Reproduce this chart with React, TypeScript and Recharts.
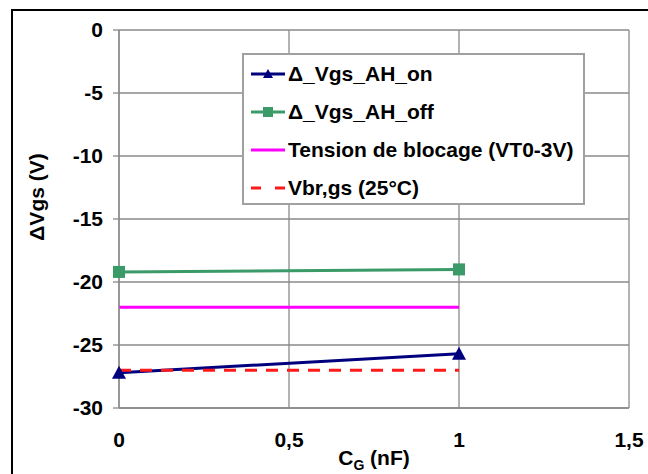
import React from "react";
import {
  LineChart,
  Line,
  XAxis,
  YAxis,
  CartesianGrid,
  Label,
} from "recharts";

const cg = [0, 1];
const ahOn = [-27.2, -25.7];
const ahOff = [-19.2, -19.0];
const blocage = [-22, -22];
const vbr = [-27, -27];

const xTicks = [0, 0.5, 1, 1.5];
const yTicks = [0, -5, -10, -15, -20, -25, -30];

const seriesNames = [
  "\u0394_Vgs_AH_on",
  "\u0394_Vgs_AH_off",
  "Tension de blocage (VT0-3V)",
  "Vbr,gs (25\u00b0C)",
];

const data = cg.map((x, i) => ({
  x,
  on: ahOn[i],
  off: ahOff[i],
  blocage: blocage[i],
  vbr: vbr[i],
}));

const FONT = "'Liberation Sans', Arial, sans-serif";
const FS = 21;
const NAVY = "#00007f";
const GREEN = "#3a9a68";
const MAGENTA = "#ff00ff";
const RED = "#ff1a1a";

const Triangle = (props: any) => {
  const { cx, cy } = props;
  if (cx == null || cy == null) return null;
  return (
    <polygon
      points={`${cx},${cy - 7} ${cx - 7},${cy + 6} ${cx + 7},${cy + 6}`}
      fill={NAVY}
    />
  );
};

const Square = (props: any) => {
  const { cx, cy } = props;
  if (cx == null || cy == null) return null;
  return <rect x={cx - 6} y={cy - 6} width={12} height={12} fill={GREEN} />;
};

const LegendBox = () => {
  const icon = (i: number) => {
    if (i === 0)
      return (
        <svg width={34} height={10}>
          <line x1={0} y1={5} x2={34} y2={5} stroke={NAVY} strokeWidth={3} />
          <polygon points="17,0 12,9 22,9" fill={NAVY} />
        </svg>
      );
    if (i === 1)
      return (
        <svg width={34} height={10}>
          <line x1={0} y1={5} x2={34} y2={5} stroke={GREEN} strokeWidth={3} />
          <rect x={12} y={0} width={10} height={10} fill={GREEN} />
        </svg>
      );
    if (i === 2)
      return (
        <svg width={34} height={10}>
          <line x1={0} y1={5} x2={34} y2={5} stroke={MAGENTA} strokeWidth={3} />
        </svg>
      );
    return (
      <svg width={34} height={10}>
        <line
          x1={0}
          y1={5}
          x2={34}
          y2={5}
          stroke={RED}
          strokeWidth={3}
          strokeDasharray="10 14"
        />
      </svg>
    );
  };
  return (
    <div
      style={{
        position: "absolute",
        left: 242,
        top: 53,
        width: 343,
        height: 152,
        boxSizing: "border-box",
        border: "2px solid #a0a0a0",
        background: "#fff",
        paddingTop: 0,
        paddingLeft: 7,
        fontFamily: FONT,
        fontWeight: "bold",
        fontSize: FS,
        color: "#000",
      }}
    >
      {seriesNames.map((name, i) => (
        <div
          key={name}
          style={{ display: "flex", alignItems: "center", height: 38 }}
        >
          {icon(i)}
          <span style={{ marginLeft: 3, whiteSpace: "nowrap" }}>{name}</span>
        </div>
      ))}
    </div>
  );
};

const XLabel = (props: any) => {
  const vb = props.viewBox || {};
  const cx = (vb.x || 0) + (vb.width || 0) / 2;
  return (
    <text
      x={cx}
      y={457}
      textAnchor="middle"
      fontFamily={FONT}
      fontWeight="bold"
      fontSize={FS}
      fill="#000"
    >
      C<tspan fontSize={14} dy={5}>G</tspan>
      <tspan dy={-5}> (nF)</tspan>
    </text>
  );
};

// rotated y title, baseline on the right side like Excel's
const YLabel = () => (
  <text
    x={36}
    y={189}
    transform="rotate(-90, 36, 189)"
    textAnchor="middle"
    fontFamily={FONT}
    fontWeight="bold"
    fontSize={FS}
    fill="#000"
  >
    {"\u0394Vgs (V)"}
  </text>
);

const tickStyle = {
  fontFamily: FONT,
  fontWeight: "bold",
  fontSize: FS,
  fill: "#000",
};

export default function App() {
  return (
    <div
      style={{
        position: "fixed",
        left: 0,
        top: 0,
        width: 648,
        height: 474,
        overflow: "hidden",
        background: "#fff",
      }}
    >
      <div
        style={{
          position: "absolute",
          left: 11,
          top: 9,
          width: 800,
          height: 800,
          borderTop: "2px solid #000",
          borderLeft: "2px solid #000",
        }}
      />
      <div style={{ position: "absolute", left: 8, top: 8 }}>
        <LineChart
          width={640}
          height={466}
          data={data}
          margin={{ top: 22, right: 19, left: 0, bottom: 0 }}
        >
          <CartesianGrid stroke="#8a8a8a" strokeWidth={1.3} />
          <XAxis
            dataKey="x"
            type="number"
            domain={[0, 1.5]}
            ticks={xTicks}
            height={66}
            tickLine={false}
            axisLine={{ stroke: "#8a8a8a", strokeWidth: 1.3 }}
            tickSize={0}
            tickMargin={24}
            tickFormatter={(v: number) => String(v).replace(".", ",")}
            tick={tickStyle}
            label={<Label content={<XLabel />} />}
          />
          <YAxis
            type="number"
            domain={[-30, 0]}
            ticks={yTicks}
            width={111}
            tickSize={6}
            tickMargin={10}
            tickLine={{ stroke: "#8a8a8a", strokeWidth: 1.3 }}
            axisLine={{ stroke: "#8a8a8a", strokeWidth: 1.3 }}
            tick={tickStyle}
            label={<Label content={<YLabel />} />}
          />
          <Line
            dataKey="on"
            name={seriesNames[0]}
            stroke={NAVY}
            strokeWidth={3}
            dot={<Triangle />}
            activeDot={false}
            isAnimationActive={false}
          />
          <Line
            dataKey="off"
            name={seriesNames[1]}
            stroke={GREEN}
            strokeWidth={3}
            dot={<Square />}
            activeDot={false}
            isAnimationActive={false}
          />
          <Line
            dataKey="blocage"
            name={seriesNames[2]}
            stroke={MAGENTA}
            strokeWidth={3}
            dot={false}
            activeDot={false}
            isAnimationActive={false}
          />
          <Line
            dataKey="vbr"
            name={seriesNames[3]}
            stroke={RED}
            strokeWidth={3}
            strokeDasharray="12 9"
            dot={false}
            activeDot={false}
            isAnimationActive={false}
          />
        </LineChart>
      </div>
      <LegendBox />
    </div>
  );
}
